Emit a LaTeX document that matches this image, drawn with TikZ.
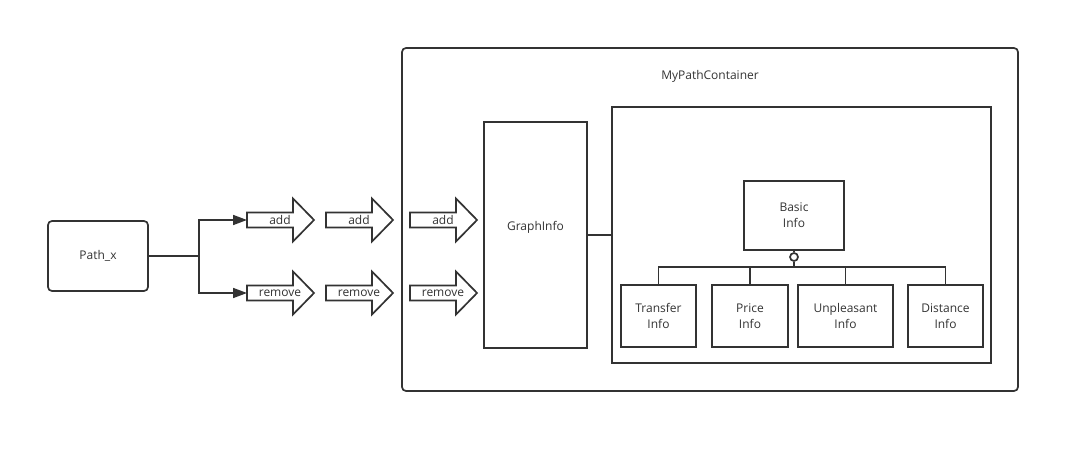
\documentclass[tikz,border=0pt]{standalone}
\usepackage{fontspec}
\setmainfont{Open Sans}
\usetikzlibrary{arrows.meta}
\definecolor{lc}{HTML}{333333}
\tikzset{
  ln/.style={draw=lc, line width=1.7pt},
  box/.style={ln, rectangle, inner sep=0pt, align=center, text=lc, font=\fontsize{12}{16}\selectfont},
  txt/.style={inner sep=0pt, text=lc, font=\fontsize{12}{16}\selectfont, align=center},
  conn/.style={ln},
  arr/.style={ln, -{Triangle[length=14pt,width=10pt]}},
}
\newcommand\blockarrow[4]{%
  \draw[ln, line join=miter] (#2,#3-7.5) -- (#2+46,#3-7.5) -- (#2+46,#3-21.5) -- (#2+67,#3) -- (#2+46,#3+21.5) -- (#2+46,#3+7.5) -- (#2,#3+7.5) -- cycle;
  \coordinate (#1w) at (#2,#3);
  \node[txt] (#1) at (#2+33,#3) {#4};}
\begin{document}
\begin{tikzpicture}[x=1pt,y=-1pt]
\useasboundingbox (0,0) rectangle (1081,454);
% outer container
\draw[ln, rounded corners=4pt] (402,48) rectangle (1018,391);
\node[txt] (title) at (710,76) {MyPathContainer};
% Path_x
\node[box, rounded corners=4pt, minimum width=100pt, minimum height=70pt] (pathx) at (98,256) {Path\_x};
% block arrows
\blockarrow{a1}{247}{220}{add}
\blockarrow{a2}{326}{220}{add}
\blockarrow{a3}{410}{220}{add}
\blockarrow{r1}{247}{293}{remove}
\blockarrow{r2}{326}{293}{remove}
\blockarrow{r3}{410}{293}{remove}
% branch
\draw[conn] (pathx.east) -- ++(50,0) coordinate (br);
\draw[arr] (br) |- (a1w);
\draw[arr] (br) |- (r1w);
% GraphInfo
\node[box, minimum width=103pt, minimum height=226pt] (graph) at (535.5,235) {};
\node[txt] (graphlbl) at (535.5,227) {GraphInfo};
% inner box
\node[box, minimum width=379pt, minimum height=256pt] (inner) at (801.5,235) {};
\draw[conn] (graph.east) -- (inner.west);
% Basic info
\node[box, minimum width=100pt, minimum height=69pt] (basic) at (794,215.5) {Basic\\Info};
\node[ln, circle, inner sep=0pt, minimum size=8pt, fill=white] (circ) at (794,257) {};
\draw[conn] (basic.south) -- (circ.north);
% children
\node[box, minimum width=75pt, minimum height=62pt] (c1) at (658.5,316) {Transfer\\Info};
\node[box, minimum width=76pt, minimum height=62pt] (c2) at (750,316) {Price\\Info};
\node[box, minimum width=95pt, minimum height=62pt] (c3) at (845.5,316) {Unpleasant\\Info};
\node[box, minimum width=75pt, minimum height=62pt] (c4) at (945.5,316) {Distance\\Info};
\coordinate (hub) at (794,267);
\draw[conn] (circ.south) -- (hub);
\draw[conn] (c1.north) |- (hub);
\draw[conn] (c4.north) |- (hub);
\draw[conn] (c2.north) -- (c2.north |- hub);
\draw[conn] (c3.north) -- (c3.north |- hub);
\end{tikzpicture}
\end{document}
